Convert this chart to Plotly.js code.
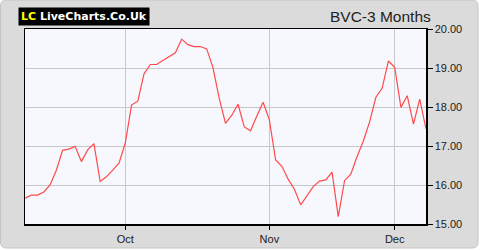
<!DOCTYPE html>
<html>
<head>
<meta charset="utf-8">
<script src="https://cdn.plot.ly/plotly-3.0.1.min.js"></script>
<style>
  html, body { margin: 0; padding: 0; background: #ffffff; }
  #chart { width: 480px; height: 250px; }
</style>
</head>
<body>
<div id="chart"></div>
<script>
// BVC closing prices, one per trading day (3 months)
const prices = [
  15.66, 15.74, 15.74, 15.82, 16.00, 16.38, 16.89, 16.92, 16.99, 16.60,
  16.90, 17.06, 16.09, 16.21, 16.38, 16.56, 17.07, 18.05, 18.15, 18.85,
  19.09, 19.09, 19.19, 19.29, 19.39, 19.74, 19.60, 19.55, 19.55, 19.49,
  19.01, 18.22, 17.58, 17.79, 18.07, 17.49, 17.39, 17.77, 18.12, 17.67,
  16.64, 16.48, 16.15, 15.89, 15.49, 15.72, 15.96, 16.10, 16.13, 16.33,
  15.19, 16.11, 16.28, 16.73, 17.13, 17.62, 18.25, 18.48, 19.18, 19.02,
  17.99, 18.29, 17.56, 18.20, 17.44
];
const dayIndex = prices.map((_, i) => i);
const monthTickIndex = [16, 39, 59];
const monthTickLabels = ['Oct', 'Nov', 'Dec'];
const yTicks = [15, 16, 17, 18, 19, 20];
const chartTitle = 'BVC-3 Months';

// plot area in pixels: x 25..426, y 29..224
const L = 25, R = 426, T = 29, B = 224;
const px = v => (v - L) / (R - L);
const py = v => (B - v) / (B - T);
function roundedRect(x0, y0, x1, y1, r) {
  const rx = r / (R - L), ry = r / (B - T);
  const a = px(x0), b = px(x1), top = py(y0), bot = py(y1);
  return `M ${a + rx} ${top} L ${b - rx} ${top} Q ${b} ${top} ${b} ${top - ry} ` +
         `L ${b} ${bot + ry} Q ${b} ${bot} ${b - rx} ${bot} ` +
         `L ${a + rx} ${bot} Q ${a} ${bot} ${a} ${bot + ry} ` +
         `L ${a} ${top - ry} Q ${a} ${top} ${a + rx} ${top} Z`;
}

const trace = {
  x: dayIndex,
  y: prices,
  type: 'scatter',
  mode: 'lines',
  line: { color: '#ff4a4a', width: 1.2 },
  hoverinfo: 'skip'
};

const layout = {
  width: 480,
  height: 250,
  margin: { l: L, r: 480 - R, t: T, b: 250 - B, pad: 0 },
  paper_bgcolor: '#ffffff',
  plot_bgcolor: '#f7f8fe',
  showlegend: false,
  font: { family: 'Liberation Sans, Arial, sans-serif', size: 11, color: '#1a1a1a' },
  xaxis: {
    range: [0, prices.length - 1],
    tickmode: 'array',
    tickvals: monthTickIndex,
    ticktext: monthTickLabels,
    ticks: 'outside',
    ticklen: 4,
    tickcolor: '#000',
    showgrid: true,
    gridcolor: '#c8c8c8',
    gridwidth: 1,
    showline: true,
    linecolor: '#000',
    linewidth: 1.5,
    mirror: true,
    zeroline: false,
    fixedrange: true,
    tickfont: { size: 11, color: '#1a1a1a' }
  },
  yaxis: {
    side: 'right',
    range: [15, 20],
    tickmode: 'array',
    tickvals: yTicks,
    ticktext: yTicks.map(v => v.toFixed(2)),
    ticks: 'outside',
    ticklen: 5,
    tickcolor: '#000',
    showgrid: true,
    gridcolor: '#c8c8c8',
    gridwidth: 1,
    showline: true,
    linecolor: '#000',
    linewidth: 1.5,
    mirror: true,
    zeroline: false,
    fixedrange: true,
    tickfont: { size: 11, color: '#1a1a1a' }
  },
  shapes: [
    {
      type: 'path', xref: 'paper', yref: 'paper', layer: 'below',
      path: roundedRect(0.5, 0, 478, 248, 6),
      fillcolor: '#dbdbdb',
      line: { color: '#c4c4c4', width: 1 }
    },
    {
      type: 'rect', xref: 'paper', yref: 'paper', layer: 'below',
      x0: 0, x1: 1, y0: 0, y1: 1,
      fillcolor: '#f7f8fe',
      line: { width: 0 }
    }
  ],
  annotations: [
    {
      xref: 'paper', yref: 'paper',
      x: px(433), y: py(16), xanchor: 'right', yanchor: 'middle',
      text: chartTitle, showarrow: false,
      font: { family: 'Liberation Sans, Arial, sans-serif', size: 15.5, color: '#222' }
    },
    {
      xref: 'paper', yref: 'paper',
      x: px(84), y: py(16.5), xanchor: 'center', yanchor: 'middle',
      text: '<b><span style="color:#ffff00">LC</span> LiveCharts.Co.Uk</b>',
      showarrow: false,
      bgcolor: '#000000',
      borderpad: 2,
      font: { family: 'DejaVu Sans, Verdana, sans-serif', size: 11, color: '#ffffff' }
    }
  ]
};

Plotly.newPlot('chart', [trace], layout, { displayModeBar: false, staticPlot: true });
</script>
</body>
</html>
